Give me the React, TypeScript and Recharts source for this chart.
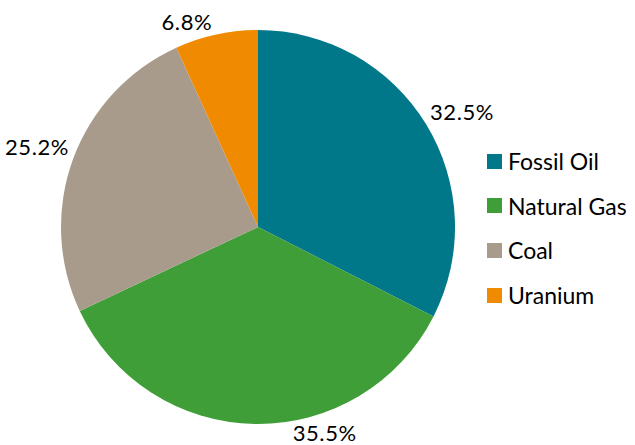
import { PieChart, Pie, Cell, Legend } from 'recharts'

const sources = ['Fossil Oil', 'Natural Gas', 'Coal', 'Uranium']
const shares = [32.5, 35.5, 25.2, 6.8]
const colors = ['#00788A', '#3F9E37', '#A89B8C', '#F08A00']

const W = 635
const H = 445
const FONT = "Lato, 'Open Sans', sans-serif"
const RAD = Math.PI / 180

const data = sources.map((name, i) => ({ name, value: shares[i] }))

// outside-end labels: the label box corner sits on the rim at the slice's mid angle,
// and a label that would drop off the bottom slides round the rim until it fits
function renderLabel(props: any) {
  const { cx, cy, midAngle, outerRadius, value } = props
  const c = Math.cos(-midAngle * RAD)
  const s = Math.sin(-midAngle * RAD)
  const pad = 4
  const digitH = 15
  let x = cx + outerRadius * c + (c >= 0 ? pad : -pad)
  let y = s <= 0 ? cy + outerRadius * s - pad : cy + outerRadius * s + pad + digitH
  let anchor: 'start' | 'end' | 'middle' = c >= 0 ? 'start' : 'end'
  const maxBase = H - 4
  if (y > maxBase) {
    const d = outerRadius + 20
    const dy = maxBase - digitH / 2 - cy
    y = maxBase
    x = cx + Math.sqrt(Math.max(0, d * d - dy * dy))
    anchor = 'middle'
  }
  return (
    <text
      x={x}
      y={y}
      textAnchor={anchor}
      fill="#000"
      style={{ fontFamily: FONT, fontSize: 22, letterSpacing: 0.6 }}
    >
      {`${value.toFixed(1)}%`}
    </text>
  )
}

function LegendContent() {
  return (
    <div style={{ fontFamily: FONT, fontSize: 23, color: '#000' }}>
      {sources.map((name, i) => (
        <div key={name} style={{ display: 'flex', alignItems: 'center', height: 44.6 }}>
          <span style={{ width: 15, height: 15, background: colors[i], display: 'inline-block', marginRight: 6 }} />
          {name}
        </div>
      ))}
    </div>
  )
}

export default function App() {
  return (
    <div style={{ position: 'absolute', left: 0, top: 0, background: '#fff' }}>
      <PieChart width={W} height={H} margin={{ top: 0, right: 0, bottom: 0, left: 0 }}>
        <Pie
          data={data}
          dataKey="value"
          nameKey="name"
          cx={258}
          cy={227}
          outerRadius={197}
          startAngle={90}
          endAngle={-270}
          stroke="none"
          label={renderLabel}
          labelLine={false}
          isAnimationActive={false}
        >
          {data.map((d, i) => (
            <Cell key={d.name} fill={colors[i]} />
          ))}
        </Pie>
        <Legend
          layout="vertical"
          align="right"
          verticalAlign="middle"
          content={<LegendContent />}
          wrapperStyle={{ left: 487, top: 139, right: 'auto', width: 150 }}
        />
      </PieChart>
    </div>
  )
}
